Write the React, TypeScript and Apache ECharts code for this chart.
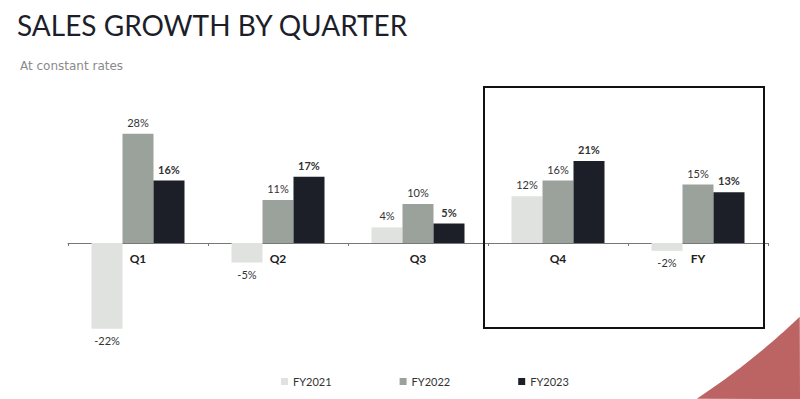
import React, { useEffect, useRef } from "react";
import * as echarts from "echarts";

const categories = ["Q1", "Q2", "Q3", "Q4", "FY"];
const fy2021 = [-22, -5, 4, 12, -2];
const fy2022 = [28, 11, 10, 16, 15];
const fy2023 = [16, 17, 5, 21, 13];
const seriesNames = ["FY2021", "FY2022", "FY2023"];
const colors = ["#dfe2df", "#9ba29c", "#1d1f28"];

function buildCorner() {
  // decorative red corner shape (outside of a large circle)
  const cx = 298, cy = -208, r = 726;
  const a0 = Math.atan2(399 - cy, 697 - cx);
  const a1 = Math.atan2(317 - cy, 800 - cx);
  const pts: number[][] = [];
  const n = 30;
  for (let i = 0; i <= n; i++) {
    const a = a0 + (a1 - a0) * (i / n);
    pts.push([cx + r * Math.cos(a), cy + r * Math.sin(a)]);
  }
  pts.push([800, 399]);
  return pts;
}

export default function App() {
  const ref = useRef<HTMLDivElement>(null);
  useEffect(() => {
    const chart = echarts.init(ref.current!, undefined, { renderer: "svg" });
    const data = [fy2021, fy2022, fy2023];
    const font = "Lato, 'Open Sans', sans-serif";
    chart.setOption({
      animation: false,
      backgroundColor: "#ffffff",
      textStyle: { fontFamily: font },
      title: [
        {
          text: "SALES GROWTH BY QUARTER",
          left: 12,
          top: 6,
          textStyle: { fontSize: 28, fontWeight: "normal", color: "#1c1f2a", fontFamily: font },
        },
        {
          text: "At constant rates",
          left: 15,
          top: 55,
          textStyle: { fontSize: 12, fontWeight: "normal", color: "#8a8a8a", fontFamily: "'DejaVu Sans', sans-serif" },
        },
      ],
      legend: {
        bottom: 7,
        left: 276,
        itemWidth: 7,
        itemHeight: 7,
        itemGap: 68,
        icon: "rect",
        textStyle: { fontSize: 11, color: "#333", fontFamily: font },
        data: seriesNames,
      },
      grid: { left: 68, right: 32, top: 87, bottom: 39 },
      xAxis: {
        type: "category",
        data: categories,
        offset: -117,
        axisLine: { onZero: false, lineStyle: { color: "#777", width: 1 } },
        axisTick: { show: true, length: 3, inside: false, lineStyle: { color: "#777" } },
        axisLabel: { fontSize: 12, fontWeight: "bold", color: "#222", margin: 9 },
      },
      yAxis: {
        type: "value",
        min: -30,
        max: 40,
        show: false,
        splitLine: { show: false },
      },
      series: seriesNames.map((name, i) => ({
        name,
        type: "bar",
        barWidth: 31,
        barGap: "0%",
        itemStyle: { color: colors[i] },
        data: data[i].map((v) => ({
          value: v,
          label: {
            show: true,
            position: v < 0 ? "bottom" : "top",
            distance: 6,
            formatter: v + "%",
            fontSize: 11,
            color: "#333",
            fontWeight: i === 2 ? "bold" : "normal",
            fontFamily: font,
          },
        })),
      })),
      graphic: [
        {
          type: "rect",
          shape: { x: 484, y: 87, width: 280, height: 241 },
          style: { fill: "none", stroke: "#111", lineWidth: 2 },
          z: 10,
        },
        {
          type: "polygon",
          shape: { points: buildCorner() },
          style: { fill: "#bb6463" },
          z: 10,
        },
      ],
    });
    return () => chart.dispose();
  }, []);
  return <div ref={ref} style={{ width: 800, height: 399, position: "absolute", left: 0, top: 0 }} />;
}
